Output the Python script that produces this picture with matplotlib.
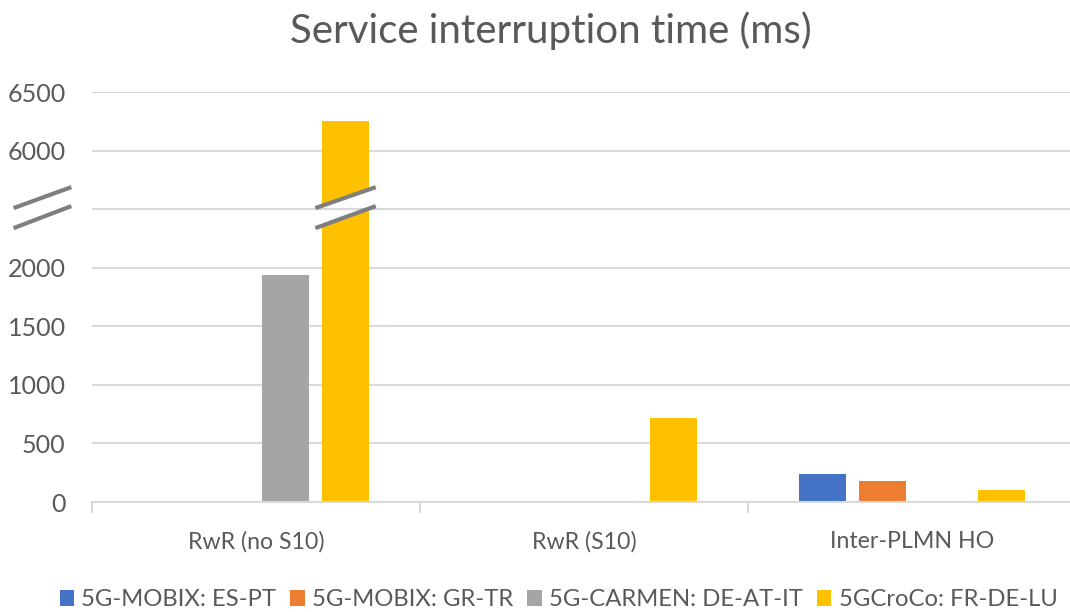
import numpy as np
import matplotlib
matplotlib.use('Agg')
import matplotlib.pyplot as plt
from matplotlib.patches import Polygon

# data (ms)
categories = ['RwR (no S10)', 'RwR (S10)', 'Inter-PLMN HO']
series = ['5G-MOBIX: ES-PT', '5G-MOBIX: GR-TR', '5G-CARMEN: DE-AT-IT', '5GCroCo: FR-DE-LU']
es_pt = [0, 0, 235]
gr_tr = [0, 0, 180]
de_at_it = [1940, 0, 0]
fr_de_lu = [6250, 715, 105]
colors = ['#4472C4', '#ED7D31', '#A5A5A5', '#FFC000']

y_ticks = [0, 500, 1000, 1500, 2000, 6000, 6500]

# broken axis: values above the break are shifted down by 3000
BREAK_AT = 2500
SHIFT = 3000


def to_axis(v):
    return v - SHIFT if v > BREAK_AT else v


plt.rcParams['font.family'] = ['Lato', 'DejaVu Sans']
TXT = '#595959'
GRID = '#D9D9D9'

fig = plt.figure(figsize=(10.7, 6.12), dpi=100)
ax = fig.add_axes([92 / 1070, 110 / 612, 984 / 1070, 410 / 612])

x = np.arange(len(categories))
step = 0.182
width = 0.143
all_vals = [es_pt, gr_tr, de_at_it, fr_de_lu]
for i, (vals, name, c) in enumerate(zip(all_vals, series, colors)):
    off = (i - 1.5) * step
    ax.bar(x + off, [to_axis(v) for v in vals], width, color=c, label=name, zorder=3)

# y axis ticks (hidden label at the break)
tick_pos = [to_axis(v) for v in y_ticks]
ax.set_yticks(tick_pos + [BREAK_AT])
ax.set_yticklabels([str(v) for v in y_ticks] + [''])
ax.set_ylim(0, to_axis(6500))
ax.set_xlim(-0.5, 2.5)
ax.yaxis.grid(True, color=GRID, linewidth=1.5, zorder=0)
ax.tick_params(axis='y', length=0, pad=19, labelsize=18, labelcolor=TXT)

ax.set_xticks(x)
ax.set_xticklabels(categories)
ax.set_xticks([-0.5, 0.5, 1.5, 2.5], minor=True)
ax.tick_params(axis='x', which='major', length=0, pad=21, labelsize=16.7, labelcolor=TXT)
ax.tick_params(axis='x', which='minor', length=8, width=1.5, color=GRID)

for s in ['left', 'right', 'top']:
    ax.spines[s].set_visible(False)
ax.spines['bottom'].set_color(GRID)
ax.spines['bottom'].set_linewidth(1.5)
ax.spines['bottom'].set_zorder(4)


def break_mark(xc, half, fill=True):
    l1 = ([xc - half, xc + half], [2509, 2688])
    l2 = ([xc - half, xc + half], [2338, 2526])
    if fill:
        poly = Polygon([(xc - half, 2509), (xc + half, 2688), (xc + half, 2526), (xc - half, 2338)],
                       closed=True, facecolor='white', edgecolor='none', zorder=5)
        ax.add_patch(poly)
        ax.plot([xc - half, xc + half], [BREAK_AT, BREAK_AT], color=GRID, lw=1.5, zorder=5)
    for lx, ly in (l1, l2):
        ax.plot(lx, ly, color='#7F7F7F', lw=3, zorder=6, clip_on=False, solid_capstyle='butt')


# break on the tall bar and on the y axis
break_mark(0 + 1.5 * step, 0.092)
break_mark(-0.651, 0.088, fill=False)

fig.text(0.515, 1 - 31 / 612, 'Service interruption time (ms)', ha='center', va='center',
         fontsize=29, color=TXT)

leg = fig.legend(loc='center', bbox_to_anchor=(0.522, 12 / 612), ncol=4, frameon=False,
                 fontsize=17.2, handlelength=0.6, handleheight=0.6, handletextpad=0.3,
                 columnspacing=0.6, borderaxespad=0)
for t in leg.get_texts():
    t.set_color(TXT)

fig.savefig('out.png', dpi=100)
